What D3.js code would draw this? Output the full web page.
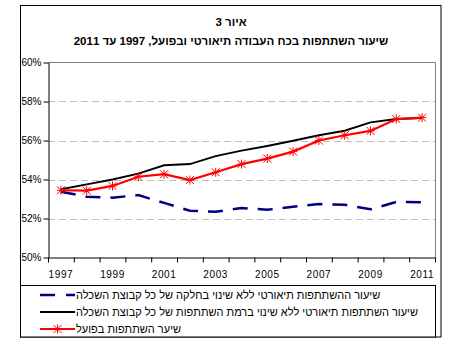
<!DOCTYPE html>
<html><head><meta charset="utf-8">
<script src="https://cdn.jsdelivr.net/npm/d3@7"></script>
<style>
html,body{margin:0;padding:0;background:#fff;}
text{font-family:"Liberation Sans",Arial,sans-serif;}
</style></head>
<body>
<svg id="chart" width="471" height="355"></svg>
<script>
const years = [1997,1998,1999,2000,2001,2002,2003,2004,2005,2006,2007,2008,2009,2010,2011];
const xTickLabels = [1997,1999,2001,2003,2005,2007,2009,2011];
const yTicks = [50,52,54,56,58,60];
const seriesShare = [53.37,53.12,53.07,53.2,52.8,52.4,52.35,52.54,52.45,52.6,52.74,52.7,52.47,52.85,52.83];
const seriesRate = [53.5,53.75,54.0,54.3,54.73,54.79,55.2,55.48,55.72,55.99,56.27,56.5,56.93,57.1,57.15];
const seriesActual = [53.45,53.43,53.67,54.14,54.27,53.97,54.37,54.79,55.07,55.43,56.0,56.27,56.49,57.1,57.17];
const titleLines = ["איור 3","שיעור השתתפות בכח העבודה תיאורטי ובפועל, 1997 עד 2011"];
const legendLabels = [
  "שיעור ההשתתפות תיאורטי ללא שינוי בחלקה של כל קבוצת השכלה",
  "שיעור השתתפות תיאורטי ללא שינוי ברמת השתתפות של כל קבוצת השכלה",
  "שיער השתתפות בפועל"
];

const svg = d3.select("#chart");
const L = 48, R = 435, T = 62.5, B = 257.5;

// outer frame
svg.append("rect").attr("x",20.5).attr("y",5.5).attr("width",420.5).attr("height",331.5)
  .attr("fill","none").attr("stroke","#000").attr("stroke-width",1);

// titles
svg.selectAll("text.title").data(titleLines).join("text")
  .attr("class","title")
  .attr("x",231).attr("y",(d,i)=>26+i*19)
  .attr("text-anchor","middle").attr("direction","rtl")
  .attr("font-size",11.5).attr("font-weight","bold").text(d=>d);

const x = d3.scaleBand().domain(years).range([L,R]).padding(0);
const y = d3.scaleLinear().domain([50,60]).range([B,T]);
const cx = d => x(d) + x.bandwidth()/2;

// gridlines
svg.append("g").selectAll("line").data(yTicks.filter(v=>v>50 && v<60)).join("line")
  .attr("x1",L).attr("x2",R).attr("y1",d=>Math.round(y(d))+0.5).attr("y2",d=>Math.round(y(d))+0.5)
  .attr("stroke","#c0c0c0").attr("stroke-dasharray","7,4");

// plot border (top,right gray)
svg.append("path").attr("d",`M${L},${T}H${R+0.5}V${B}`).attr("fill","none").attr("stroke","#808080");

// y axis
const yAxis = svg.append("g").attr("transform",`translate(${L+0.5},0)`)
  .call(d3.axisLeft(y).tickValues(yTicks).tickFormat(d=>d+"%").tickSize(5).tickSizeOuter(0));
yAxis.select(".domain").attr("stroke","#000");
yAxis.selectAll(".tick line").attr("stroke","#000");
yAxis.selectAll(".tick text").attr("font-size",10).attr("font-family","Liberation Sans, Arial").attr("fill","#000").attr("dx",1);

// x axis: ticks at band edges
const xEdge = d3.scaleLinear().domain([0,years.length]).range([L,R]);
const xAxisTicks = svg.append("g").attr("transform",`translate(0,${B})`)
  .call(d3.axisBottom(xEdge).tickValues(d3.range(years.length+1)).tickFormat("").tickSize(5).tickSizeOuter(0));
xAxisTicks.select(".domain").attr("stroke","#000");
xAxisTicks.selectAll(".tick line").attr("stroke","#000");
const xAxisLabels = svg.append("g").attr("transform",`translate(0,${B})`)
  .call(d3.axisBottom(x).tickValues(xTickLabels).tickSize(0).tickPadding(13));
xAxisLabels.select(".domain").remove();
xAxisLabels.selectAll(".tick text").attr("font-size",10).attr("font-family","Liberation Sans, Arial").attr("fill","#000").attr("letter-spacing",0.6);

const line = d3.line().x((d,i)=>cx(years[i])).y(d=>y(d));

svg.append("path").datum(seriesShare).attr("d",line).attr("fill","none")
  .attr("stroke","#000080").attr("stroke-width",2.5).attr("stroke-dasharray","15,10");
svg.append("path").datum(seriesRate).attr("d",line).attr("fill","none")
  .attr("stroke","#000").attr("stroke-width",2);
svg.append("path").datum(seriesActual).attr("d",line).attr("fill","none")
  .attr("stroke","#ff0000").attr("stroke-width",2.2);

function star(g, px, py){
  const s = 4;
  g.append("path").attr("d",`M${px-s},${py-s}L${px+s},${py+s}M${px-s},${py+s}L${px+s},${py-s}M${px},${py-s-0.5}L${px},${py+s+0.5}M${px-s},${py}L${px+s},${py}`)
    .attr("stroke","#ff0000").attr("stroke-width",1).attr("fill","none");
}
const mg = svg.append("g");
seriesActual.forEach((v,i)=>star(mg, cx(years[i]), y(v)));

// legend
svg.append("rect").attr("x",20.5).attr("y",285.5).attr("width",415).attr("height",51.5)
  .attr("fill","#fff").attr("stroke","#000");
const legY = [295,312,329];
const lg = svg.append("g");
lg.append("line").attr("x1",40).attr("x2",75).attr("y1",legY[0]).attr("y2",legY[0])
  .attr("stroke","#000080").attr("stroke-width",2.5).attr("stroke-dasharray","15,11");
lg.append("line").attr("x1",40).attr("x2",75).attr("y1",legY[1]).attr("y2",legY[1])
  .attr("stroke","#000").attr("stroke-width",2);
lg.append("line").attr("x1",40).attr("x2",75).attr("y1",legY[2]).attr("y2",legY[2])
  .attr("stroke","#ff0000").attr("stroke-width",2.2);
star(lg, 57.5, legY[2]);
lg.selectAll("text").data(legendLabels).join("text")
  .attr("x",76).attr("y",(d,i)=>legY[i]+4)
  .attr("direction","rtl").attr("text-anchor","end")
  .attr("font-size",11).attr("fill","#000").text(d=>d);
</script>
</body></html>
